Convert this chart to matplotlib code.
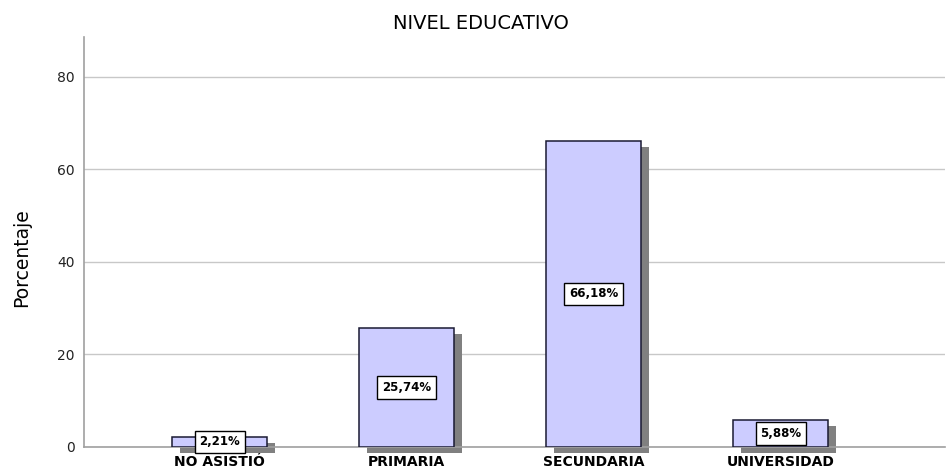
import matplotlib
matplotlib.use('Agg')
import matplotlib.pyplot as plt
from matplotlib.patches import Rectangle

categorias = ['NO ASISTIÓ', 'PRIMARIA', 'SECUNDARIA', 'UNIVERSIDAD']
porcentajes = [2.21, 25.74, 66.18, 5.88]
etiquetas = ['2,21%', '25,74%', '66,18%', '5,88%']
yticks = [0, 20, 40, 60, 80]

plt.rcParams['font.family'] = ['DejaVu Sans']

fig = plt.figure(figsize=(9.48, 4.70), dpi=100)
ax = fig.add_axes([84 / 948, 23 / 470, 861 / 948, 410 / 470])

ancho = 0.508
x = list(range(len(categorias)))

# sombras (offset en px convertido a datos)
px_x = 1 / 187.0
px_y = 1 / 4.625
for xi, v in zip(x, porcentajes):
    ax.add_patch(Rectangle((xi - ancho / 2 + 8 * px_x, -6 * px_y), ancho, v,
                           facecolor='#808080', edgecolor='none', zorder=2, clip_on=False))

ax.bar(x, porcentajes, width=ancho, color='#CCCCFF', edgecolor='#1a1a33',
       linewidth=1.1, zorder=3)

for xi, v, t in zip(x, porcentajes, etiquetas):
    ax.text(xi, v / 2, t, ha='center', va='center', fontsize=8.5, fontweight='bold',
            zorder=5, bbox=dict(boxstyle='square,pad=0.4', facecolor='white',
                                edgecolor='black', linewidth=1))

ax.set_xlim(-0.725, 3.877)
ax.set_ylim(0, 88.6)
ax.set_yticks(yticks)
ax.set_xticks(x)
ax.set_xticklabels(categorias, fontsize=10, fontweight='bold')
ax.tick_params(axis='x', length=0, pad=6)
ax.tick_params(axis='y', length=0, pad=6.5, labelsize=10, labelcolor='#222222')
ax.yaxis.grid(True, color='#c8c8c8', linewidth=1)
ax.set_axisbelow(True)
for s in ['top', 'right']:
    ax.spines[s].set_visible(False)
ax.spines['left'].set_color('#a0a0a0')
ax.spines['bottom'].set_color('#a0a0a0')
ax.spines['left'].set_linewidth(1.2)
ax.spines['bottom'].set_linewidth(1.2)
ax.spines['bottom'].set_zorder(2.5)

fig.text(22 / 948, 1 - 258 / 470, 'Porcentaje', rotation=90, ha='center', va='center',
         fontsize=13.5)
fig.text(0.507, 0.95, 'NIVEL EDUCATIVO', ha='center', va='center', fontsize=14)

fig.savefig('out.png', dpi=100)
